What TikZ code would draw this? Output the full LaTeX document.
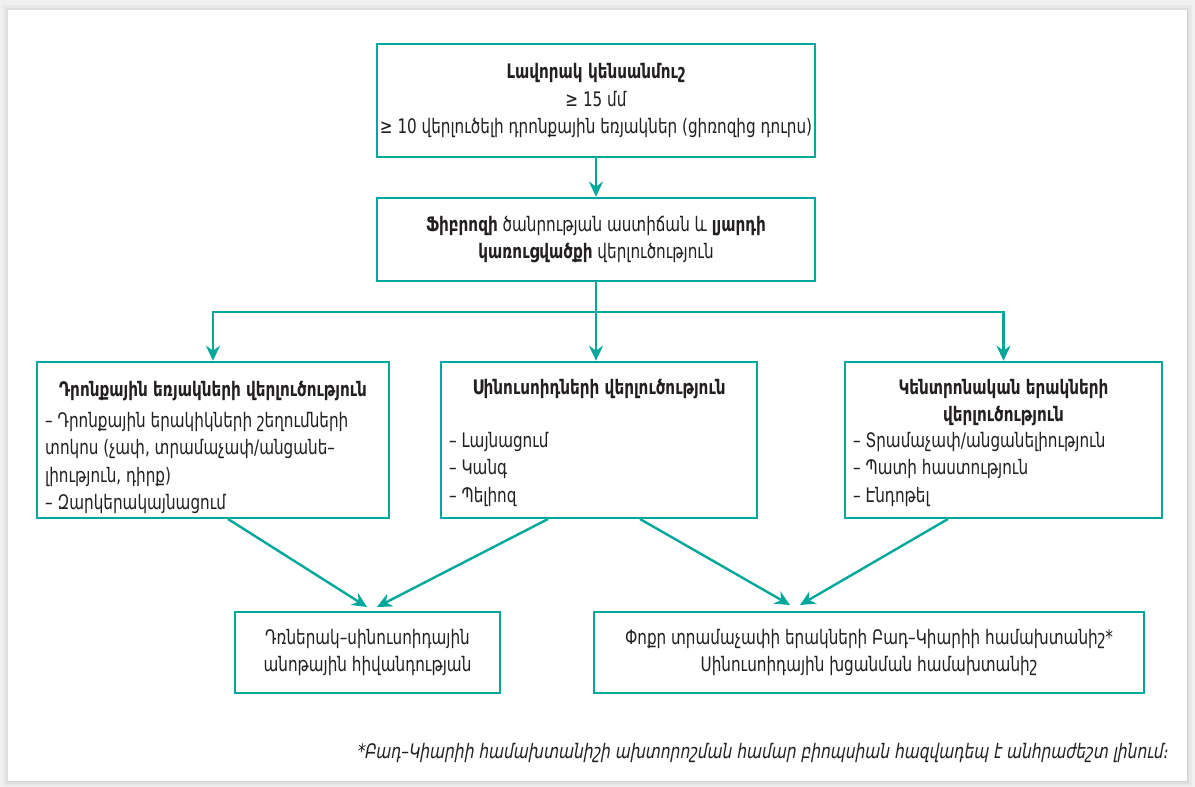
\documentclass[tikz,border=0pt]{standalone}
\usepackage{fontspec}
\setmainfont{DejaVu Sans}[FakeStretch=0.76]
\newfontfamily\notefont{DejaVu Sans}[FakeStretch=0.77,FakeSlant=0.18]
\usetikzlibrary{arrows.meta}
\definecolor{tealc}{RGB}{0,168,156}
\definecolor{txtc}{RGB}{35,31,32}
\begin{document}
\begin{tikzpicture}[x=1pt,y=-1pt,
  box/.style={draw=tealc,line width=2.6pt,fill=white,inner sep=0pt,text=txtc,align=center,font=\fontsize{20}{27.5}\selectfont},
  conn/.style={draw=tealc,line width=2.4pt},
  arr/.style={conn,-{Stealth[length=15pt,width=14pt,inset=5pt]}},
  txt/.style={text=txtc,inner sep=0pt,font=\fontsize{20}{27.5}\selectfont}]
\useasboundingbox (0,0) rectangle (1195,787);
% page and card shadow
\fill[black!6] (0,0) rectangle (1195,787);
\fill[black!9] (3,5) rectangle (1192,786);
\fill[black!13] (6,8) rectangle (1189,784);
\fill[black!18] (7.5,9.5) rectangle (1187.5,782);
\fill[white] (8,10) rectangle (1187,781);
% boxes
\node[box,minimum width=438pt,minimum height=113pt] (top) at (596,100.5)
  {\textbf{Լավորակ կենսանմուշ}\\ ≥ 15 մմ\\ ≥ 10 վերլուծելի դրոնքային եռյակներ (ցիռոզից դուրս)};
\node[box,minimum width=438pt,minimum height=83pt] (sec) at (596,239.5)
  {\textbf{Ֆիբրոզի} ծանրության աստիճան և \textbf{լյարդի}\\ \textbf{կառուցվածքի} վերլուծություն};
\node[box,minimum width=352pt,minimum height=156pt] (lb) at (213,440) {};
\node[box,minimum width=316pt,minimum height=156pt] (mb) at (599,440) {};
\node[box,minimum width=317pt,minimum height=156pt] (rb) at (1003.5,440) {};
\node[box,minimum width=265pt,minimum height=81pt] (bl) at (367.5,652.5)
  {Դռներակ–սինուսոիդային\\ անոթային հիվանդության};
\node[box,minimum width=550pt,minimum height=81pt] (br) at (869,652.5)
  {Փոքր տրամաչափի երակների Բադ–Կիարիի համախտանիշ*\\ Սինուսոիդային խցանման համախտանիշ};
% texts of the middle row
\node[txt,anchor=north] (lbt) at (213,381) {\textbf{Դրոնքային եռյակների վերլուծություն}};
\node[txt,anchor=north west,align=left] (lbb) at (45,412)
  {– Դրոնքային երակիկների շեղումների\\ տոկոս (չափ, տրամաչափ/անցանե–\\ լիություն, դիրք)\\ – Զարկերակայնացում};
\node[txt,anchor=north] (mbt) at (599,379) {\textbf{Սինուսոիդների վերլուծություն}};
\node[txt,anchor=north west,align=left] (mbb) at (449,432)
  {– Լայնացում\\ – Կանգ\\ – Պելիոզ};
\node[txt,anchor=north,align=center] (rbt) at (1003.5,379) {\textbf{Կենտրոնական երակների}\\ \textbf{վերլուծություն}};
\node[txt,anchor=north west,align=left] (rbb) at (853,432)
  {– Տրամաչափ/անցանելիություն\\ – Պատի հաստություն\\ – Էնդոթել};
% footnote
\node[txt,anchor=base east] (note) at (1168,758)
  {\notefont *Բադ–Կիարիի համախտանիշի ախտորոշման համար բիոպսիան հազվադեպ է անհրաժեշտ լինում։};
% connectors
\coordinate (j) at (596,312);
\draw[arr] (top.south) -- (sec.north);
\draw[conn] (sec.south) -- (j);
\draw[arr] (j) -- (j |- mb.north);
\draw[arr] (j) -| (lb.north);
\draw[arr] (j) -| (rb.north);
\coordinate (s1) at (228,519);
\coordinate (s2) at (548,519);
\coordinate (s3) at (640,519);
\coordinate (s4) at (948,519);
\coordinate (e1) at (367,607);
\coordinate (e2) at (377,607);
\coordinate (e3) at (790,605);
\coordinate (e4) at (800,605);
\draw[arr] (s1) -- (e1);
\draw[arr] (s2) -- (e2);
\draw[arr] (s3) -- (e3);
\draw[arr] (s4) -- (e4);
\end{tikzpicture}
\end{document}
